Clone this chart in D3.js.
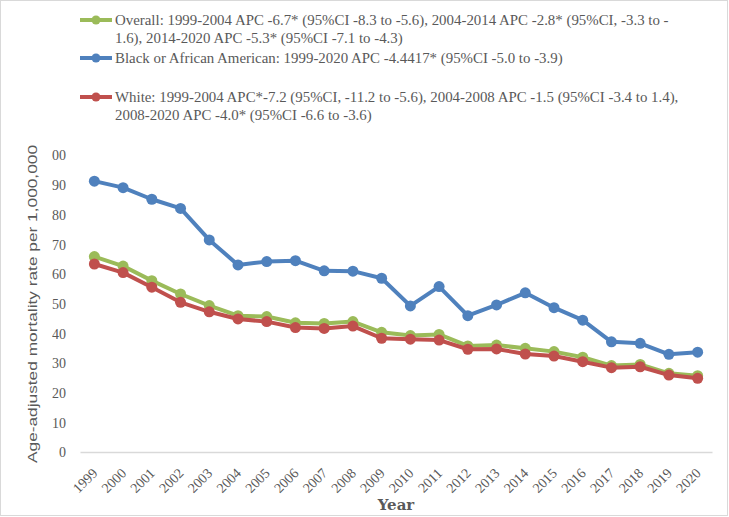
<!DOCTYPE html>
<html>
<head>
<meta charset="utf-8">
<script src="https://cdn.jsdelivr.net/npm/d3@7"></script>
<style>
  body { margin: 0; background: #fff; }
  svg { display: block; }
</style>
</head>
<body>
<div id="chart"></div>
<script>
// Data
const years = ["1999","2000","2001","2002","2003","2004","2005","2006","2007","2008","2009",
               "2010","2011","2012","2013","2014","2015","2016","2017","2018","2019","2020"];

const overall = [65.8, 62.6, 57.7, 53.2, 49.3, 45.9, 45.6, 43.5, 43.3, 43.9, 40.3,
                 39.2, 39.6, 35.7, 36.0, 34.9, 33.8, 31.9, 29.1, 29.5, 26.5, 25.7];
const black = [91.2, 89.0, 85.1, 82.0, 71.4, 63.0, 64.1, 64.4, 61.0, 60.9, 58.5,
               49.2, 55.7, 45.9, 49.5, 53.6, 48.6, 44.4, 37.1, 36.6, 32.9, 33.6];
const white = [63.3, 60.4, 55.5, 50.4, 47.2, 44.8, 43.9, 41.9, 41.6, 42.4, 38.3,
               38.0, 37.7, 34.6, 34.7, 33.0, 32.3, 30.4, 28.4, 28.7, 25.9, 24.8];

const yTicks = [0, 10, 20, 30, 40, 50, 60, 70, 80, 90, 100];

const legendLabels = [
    ["Overall: 1999-2004 APC -6.7* (95%CI -8.3 to -5.6), 2004-2014 APC -2.8* (95%CI, -3.3 to -",
     "1.6), 2014-2020 APC -5.3* (95%CI -7.1 to -4.3)"],
    ["Black or African American: 1999-2020 APC -4.4417* (95%CI -5.0 to -3.9)"],
    ["White: 1999-2004 APC*-7.2 (95%CI, -11.2 to -5.6), 2004-2008 APC -1.5 (95%CI -3.4 to 1.4),",
     "2008-2020 APC -4.0* (95%CI -6.6 to -3.6)"]
];

const colors = ["#9BBB59", "#4F81BD", "#C0504D"];

const W = 729, H = 517;
const margin = { top: 155, right: 17, bottom: 65, left: 80 };
const serif = "'Liberation Serif', 'Times New Roman', serif";

const svg = d3.select("#chart")
    .append("svg")
    .attr("width", W)
    .attr("height", H);

// outer chart border
svg.append("rect")
    .attr("x", 0.5).attr("y", 0.5)
    .attr("width", W - 2).attr("height", H - 2)
    .attr("fill", "#fff")
    .attr("stroke", "#d9d9d9");

// clip so the "1" of 100 is cut like in the original
svg.append("clipPath").attr("id", "plotClip")
    .append("rect")
    .attr("x", 51.5).attr("y", 0)
    .attr("width", W).attr("height", H);

const x = d3.scaleBand()
    .domain(years)
    .range([margin.left, W - margin.right])
    .padding(0);

const cx = d => x(d) + x.bandwidth() / 2;

const y = d3.scaleLinear()
    .domain([0, 100])
    .range([H - margin.bottom, margin.top]);

// Y axis (no line, no ticks)
const yAxis = svg.append("g")
    .attr("clip-path", "url(#plotClip)")
    .append("g")
    .attr("transform", `translate(${margin.left - 14},0)`)
    .call(d3.axisLeft(y).tickValues(yTicks).tickSize(0).tickPadding(0));
yAxis.select(".domain").remove();
yAxis.selectAll("text")
    .attr("font-family", serif)
    .attr("font-size", 14)
    .attr("fill", "#595959")
    .attr("dy", "0.35em");

// X axis
const xAxis = svg.append("g")
    .attr("transform", `translate(0,${y(0)})`)
    .call(d3.axisBottom(x).tickSize(0).tickPadding(0));
xAxis.select(".domain")
    .attr("stroke", "#d9d9d9")
    .attr("stroke-width", 1.5);
xAxis.selectAll("text")
    .attr("font-family", serif)
    .attr("font-size", 14)
    .attr("fill", "#595959")
    .attr("text-anchor", "end")
    .attr("dy", 0)
    .attr("y", 0)
    .attr("transform", "translate(4,22) rotate(-45)");

// Axis titles
svg.append("text")
    .attr("transform", `translate(37,304) rotate(-90)`)
    .attr("text-anchor", "middle")
    .attr("font-family", "'Liberation Sans', sans-serif")
    .attr("font-size", 12.5)
    .attr("textLength", 318)
    .attr("lengthAdjust", "spacingAndGlyphs")
    .attr("fill", "#595959")
    .text("Age-adjusted mortality rate per 1,000,000");

svg.append("text")
    .attr("x", 396)
    .attr("y", 510)
    .attr("text-anchor", "middle")
    .attr("font-family", "'DejaVu Serif', serif")
    .attr("font-weight", "bold")
    .attr("font-size", 15)
    .attr("fill", "#595959")
    .text("Year");

// Series
const series = [
    { name: "overall", values: overall, color: colors[0] },
    { name: "black", values: black, color: colors[1] },
    { name: "white", values: white, color: colors[2] }
];

const line = d3.line()
    .x((d, i) => cx(years[i]))
    .y(d => y(d));

series.forEach(s => {
    const g = svg.append("g").attr("class", s.name);
    g.append("path")
        .datum(s.values)
        .attr("fill", "none")
        .attr("stroke", s.color)
        .attr("stroke-width", 4)
        .attr("stroke-linejoin", "round")
        .attr("d", line);
    g.selectAll("circle")
        .data(s.values)
        .enter()
        .append("circle")
        .attr("cx", (d, i) => cx(years[i]))
        .attr("cy", d => y(d))
        .attr("r", 5.5)
        .attr("fill", s.color);
});

// Legend
const legendY = [20, 58, 97];
const legend = svg.selectAll(".legend")
    .data(legendLabels)
    .enter()
    .append("g")
    .attr("class", "legend")
    .attr("transform", (d, i) => `translate(0,${legendY[i]})`);

legend.append("line")
    .attr("x1", 80).attr("x2", 112)
    .attr("y1", 0).attr("y2", 0)
    .attr("stroke", (d, i) => colors[i])
    .attr("stroke-width", 4);

legend.append("circle")
    .attr("cx", 96).attr("cy", 0).attr("r", 4.5)
    .attr("fill", (d, i) => colors[i]);

// legend text looks condensed in the original; squeeze horizontally to fit
legend.each(function(lines) {
    const g = d3.select(this).append("g");
    lines.forEach((t, j) => {
        g.append("text")
            .attr("x", 0)
            .attr("y", j * 17.5)
            .attr("dy", "0.35em")
            .attr("font-family", serif)
            .attr("font-size", 14.5)
            .attr("fill", "#595959")
            .text(t);
    });
});
const firstLine = svg.select(".legend text").node().getComputedTextLength();
const squeeze = 554 / firstLine;
svg.selectAll(".legend g")
    .attr("transform", `translate(115,0) scale(${squeeze},1)`);
</script>
</body>
</html>
